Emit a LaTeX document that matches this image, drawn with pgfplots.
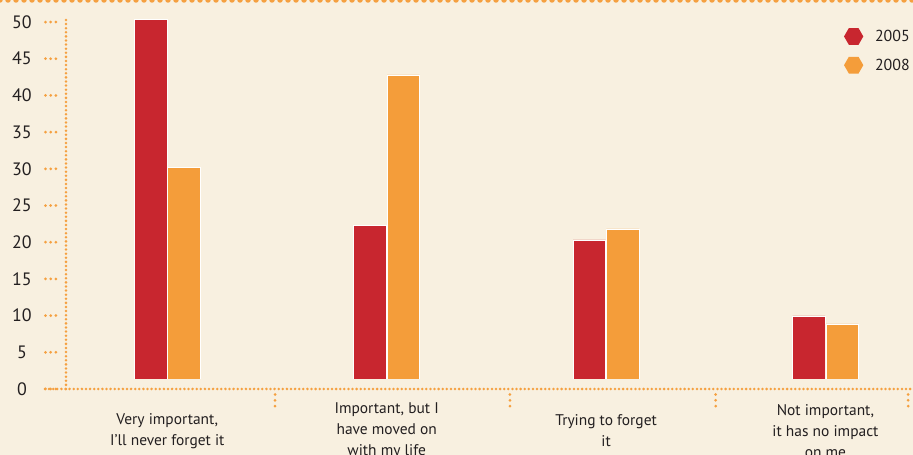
\documentclass[border=0pt]{standalone}
\usepackage{pgfplots}
\pgfplotsset{compat=1.18}
\usepackage{fontspec}
\setmainfont{PT Sans}
\usetikzlibrary{shapes.geometric}
\definecolor{bg}{HTML}{F8F0E0}
\definecolor{cred}{HTML}{C8262F}
\definecolor{corange}{HTML}{F49D3A}
\definecolor{dotc}{HTML}{F5A040}
\definecolor{txt}{HTML}{231F20}
\tikzset{dotline/.style={draw=dotc, line width=2.8bp, line cap=round, dash pattern=on 0bp off 4.1bp}}
\begin{document}
\begin{tikzpicture}[x=1bp,y=1bp]
\fill[bg] (-66,-66) rectangle (847,389);
\useasboundingbox (-66,-66) rectangle (847,389);
\clip (-66,-66) rectangle (847,389);
\begin{axis}[
  scale only axis, width=847bp, height=389bp,
  xmin=-0.4617, xmax=3.399, ymin=0, ymax=53.0,
  clip mode=individual,
  ybar=0.7bp, bar width=32.6bp,
  axis line style={draw=none},
  major tick length=0pt,
  tick style={draw=none},
  xtick={0,1,2,3},
  xticklabels={{Very important,\\I’ll never forget it},{Important, but I\\have moved on\\with my life},{Trying to forget\\it},{Not important,\\it has no impact\\on me}},
  xticklabel style={font=\fontsize{15.5}{21}\selectfont, align=center, anchor=center, yshift=-42bp, text=txt},
  ytick={0,5,10,15,20,25,30,35,40,45,50},
  yticklabel style={font=\fontsize{18}{18}\selectfont, anchor=center, xshift=-44bp, text=txt},
  /pgf/number format/assume math mode=true,
  legend style={at={(axis cs:3.3897,49.2)}, anchor=north east, draw=none, fill=none,
    font=\fontsize{16}{16}\selectfont, text=txt, row sep=12bp, inner sep=0pt,
    nodes={inner sep=1bp}},
  legend cell align=left,
]
\addplot[fill=cred, draw=white, line width=0.6bp,
  legend image code/.code={\node[fill=cred, draw=none, regular polygon, regular polygon sides=6, minimum size=19.3bp, inner sep=0pt, outer sep=0pt] at (-9bp,0) {}; \path[draw=none, fill=none] (-19bp,0) -- (21bp,0);}]
  coordinates {(0,50.4) (1,22.25) (2,20.3) (3,9.95)};
\addlegendentry{2005}
\addplot[fill=corange, draw=white, line width=0.6bp,
  legend image code/.code={\node[fill=corange, draw=none, regular polygon, regular polygon sides=6, minimum size=19.3bp, inner sep=0pt, outer sep=0pt] at (-9bp,0) {}; \path[draw=none, fill=none] (-19bp,0) -- (21bp,0);}]
  coordinates {(0,30.15) (1,42.8) (2,21.8) (3,8.86)};
\addlegendentry{2008}
% floating base of the bars
\fill[bg] (axis cs:-0.4617,-0.5) rectangle (axis cs:3.399,1.36);
% axes
\draw[dotline] ([xshift=-21bp]axis cs:-0.4617,0) -- (axis cs:3.5,0);
\draw[dotline] (axis cs:-0.4617,0) -- (axis cs:-0.4617,50.3);
\pgfplotsinvokeforeach{0,5,10,15,20,25,30,35,40,45,50}{
  \draw[dotline, line width=3bp, dash pattern=on 0bp off 5.2bp] ([xshift=-20.5bp]axis cs:-0.4617,#1) -- ([xshift=-10bp]axis cs:-0.4617,#1);
}
\pgfplotsinvokeforeach{0.491,1.562,2.4995,3.377}{
  \draw[dotline, line width=3bp, dash pattern=on 0bp off 5.8bp] ([yshift=-5.5bp]axis cs:#1,0) -- ([yshift=-17.3bp]axis cs:#1,0);
}
\end{axis}
\draw[dotc, line width=5.5bp, line cap=round, dash pattern=on 0bp off 8bp] (-66,389) -- (847,389);
\end{tikzpicture}
\end{document}
